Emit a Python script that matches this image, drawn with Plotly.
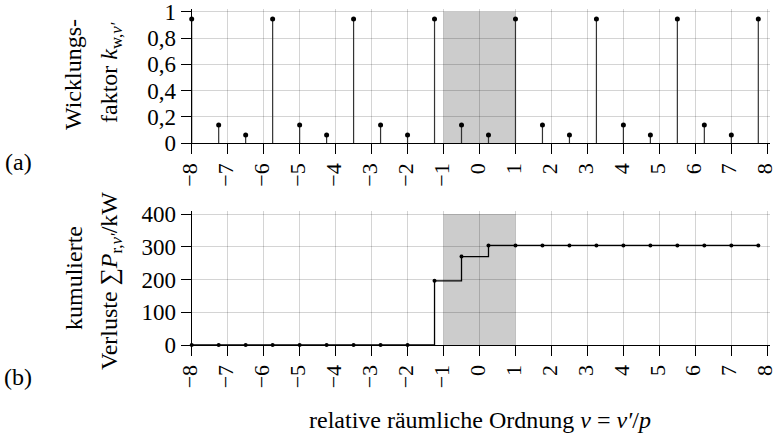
import plotly.graph_objects as go
from plotly.subplots import make_subplots

# ---- data ----
nu = [-8, -7.25, -6.5, -5.75, -5, -4.25, -3.5, -2.75, -2, -1.25, -0.5,
      0.25, 1, 1.75, 2.5, 3.25, 4, 4.75, 5.5, 6.25, 7, 7.75]
kw = [0.945, 0.14, 0.063, 0.945, 0.14, 0.063, 0.945, 0.14, 0.063, 0.945, 0.14,
      0.063, 0.945, 0.14, 0.063, 0.945, 0.14, 0.063, 0.945, 0.14, 0.063, 0.945]
loss_cum = [0, 0, 0, 0, 0, 0, 0, 0, 0, 196, 270,
            304, 304, 304, 304, 304, 304, 304, 304, 304, 304, 304]
x_ticks = list(range(-8, 9))
kw_ticks = [0, 0.2, 0.4, 0.6, 0.8, 1]
loss_ticks = [0, 100, 200, 300, 400]
shade_range = [-1, 1]

FONT = "Liberation Serif, Times New Roman, Times, serif"
W, H = 776, 440
FS = 23

fig = make_subplots(rows=2, cols=1)

fig.add_trace(go.Scatter(
    x=nu, y=kw, mode="markers",
    marker=dict(color="black", size=5),
    error_y=dict(type="data", symmetric=False, array=[0] * len(kw),
                 arrayminus=kw, width=0, thickness=1.2, color="#333333"),
    showlegend=False, cliponaxis=False), row=1, col=1)

fig.add_trace(go.Scatter(
    x=nu, y=loss_cum, mode="lines+markers", line_shape="hv",
    line=dict(color="black", width=1.3),
    marker=dict(color="black", size=4),
    showlegend=False, cliponaxis=False), row=2, col=1)

# small padding beyond the last tick so the edge gridlines are kept
XPAD, YPAD = 0.07, 0.02
px_per_x = (767.3 - 191.7) / 16
xdom = [191.7 / W, (767.3 + XPAD * px_per_x) / W]
axis_common = dict(showline=True, linecolor="black", linewidth=1.3,
                   ticks="outside", ticklen=10, tickcolor="black", tickwidth=1,
                   showgrid=True, gridcolor="rgba(0,0,0,0.17)", gridwidth=1,
                   zeroline=False, automargin=False, ticklabeloverflow="allow")

for r in (1, 2):
    fig.update_xaxes(range=[-8, 8 + XPAD], tickvals=x_ticks, tickangle=-90,
                     domain=xdom, ticklabelshift=-2,
                     tickfont=dict(family=FONT, size=22, color="black"),
                     **axis_common, row=r, col=1)

top_h = 143.3 - 11.7
bot_h = 345 - 214
yfont = dict(family=FONT, size=FS, color="black")
fig.update_yaxes(range=[0, 1 * (1 + YPAD)], tickvals=kw_ticks, tickfont=yfont,
                 domain=[1 - 143.3 / H, 1 - (11.7 - YPAD * top_h) / H],
                 **axis_common, row=1, col=1)
fig.update_yaxes(range=[0, 400 * (1 + YPAD)], tickvals=loss_ticks, tickfont=yfont,
                 domain=[1 - 345 / H, 1 - (214 - YPAD * bot_h) / H],
                 **axis_common, row=2, col=1)

for xr, yr, ytop in (("x", "y", 1), ("x2", "y2", 400)):
    fig.add_shape(type="rect", xref=xr, yref=yr,
                  x0=shade_range[0], x1=shade_range[1], y0=0, y1=ytop,
                  fillcolor="#cccccc", line_width=0, layer="below")

def ann(text, px, py, angle=0, size=24):
    fig.add_annotation(text=text, xref="paper", yref="paper",
                       x=px / W, y=1 - py / H, showarrow=False,
                       textangle=angle, xanchor="center", yanchor="middle",
                       font=dict(family=FONT, size=size, color="black"))

ann("Wicklungs-", 73, 75, -90)
ann("faktor <i>k</i><sub>w,<i>ν′</i></sub>", 111, 73, -90)
ann("kumulierte", 74, 278, -90)
ann("Verluste ∑<i>P</i><sub>r,<i>ν′</i></sub>/kW", 111, 281, -90)
ann("(a)", 18, 162)
ann("(b)", 18, 377)
ann("relative räumliche Ordnung <i>ν</i> = <i>ν′</i>/<i>p</i>", 480, 420)

fig.update_layout(width=W, height=H, margin=dict(l=0, r=0, t=0, b=0),
                  plot_bgcolor="white", paper_bgcolor="white",
                  separators=",.", font=dict(family=FONT, color="black"))

fig.write_html("out.html", config={"displayModeBar": False},
               post_script="document.body.style.margin='0';document.body.style.overflow='hidden';")
